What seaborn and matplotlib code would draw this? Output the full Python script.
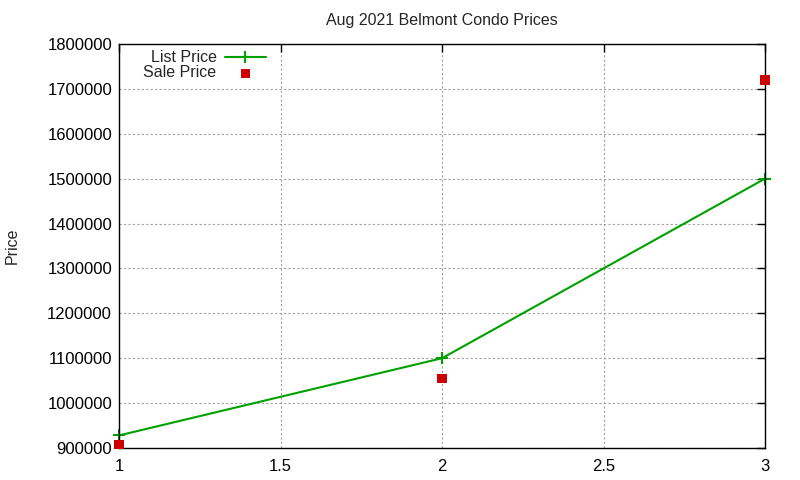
import matplotlib
matplotlib.use("Agg")
import matplotlib.pyplot as plt
import seaborn as sns
import pandas as pd
from matplotlib.ticker import FuncFormatter

bedrooms = [1, 2, 3]
list_price = [928000, 1100000, 1500000]
sale_price = [908000, 1055000, 1720000]
x_ticks = [1, 1.5, 2, 2.5, 3]
y_ticks = [900000, 1000000, 1100000, 1200000, 1300000, 1400000, 1500000, 1600000, 1700000, 1800000]

df = pd.DataFrame({"x": bedrooms, "list": list_price, "sale": sale_price})

sns.set_style("white")
plt.rcParams['font.family'] = ['Liberation Sans', 'DejaVu Sans']

fig = plt.figure(figsize=(8, 4.8), dpi=100)
ax = fig.add_axes([119/800, 1-448/480, (765-119)/800, (448-44)/480])

sns.lineplot(data=df, x="x", y="list", ax=ax, color="#00a000", linewidth=1.5,
             marker="+", markersize=9, markeredgewidth=1.5,
             markeredgecolor="#00a000", markerfacecolor="#00a000",
             label="List Price", clip_on=False)
sns.scatterplot(data=df, x="x", y="sale", ax=ax, color="#cc0000", marker="s",
                s=45, edgecolor="none", label="Sale Price", zorder=3, clip_on=False)

ax.set_xlim(1, 3)
ax.set_ylim(900000, 1800000)
ax.set_xticks(x_ticks)
ax.set_yticks(y_ticks)
ax.xaxis.set_major_formatter(FuncFormatter(lambda v, p: f"{v:g}"))
ax.yaxis.set_major_formatter(FuncFormatter(lambda v, p: f"{int(v)}"))
ax.grid(True, color="#a0a0a0", linestyle=(0, (2, 2)), linewidth=0.8)
ax.tick_params(direction="in", length=6, width=1, top=True, right=True,
               labelsize=12, colors="black")
ax.tick_params(axis="x", pad=8)
ax.tick_params(axis="y", pad=5)
for s in ax.spines.values():
    s.set_color("black")
    s.set_linewidth(1)
ax.set_xlabel("")
ax.set_ylabel("Price", fontsize=11.5, labelpad=20)
ax.set_title("Aug 2021 Belmont Condo Prices", fontsize=11.5, pad=14)

leg = ax.legend(loc="upper left", frameon=False, markerfirst=False, fontsize=11.5,
                handlelength=2.6, handletextpad=0.5, borderaxespad=0.0,
                labelspacing=0.0, bbox_to_anchor=(0.028, 1.0))

fig.savefig("out.png", dpi=100)
